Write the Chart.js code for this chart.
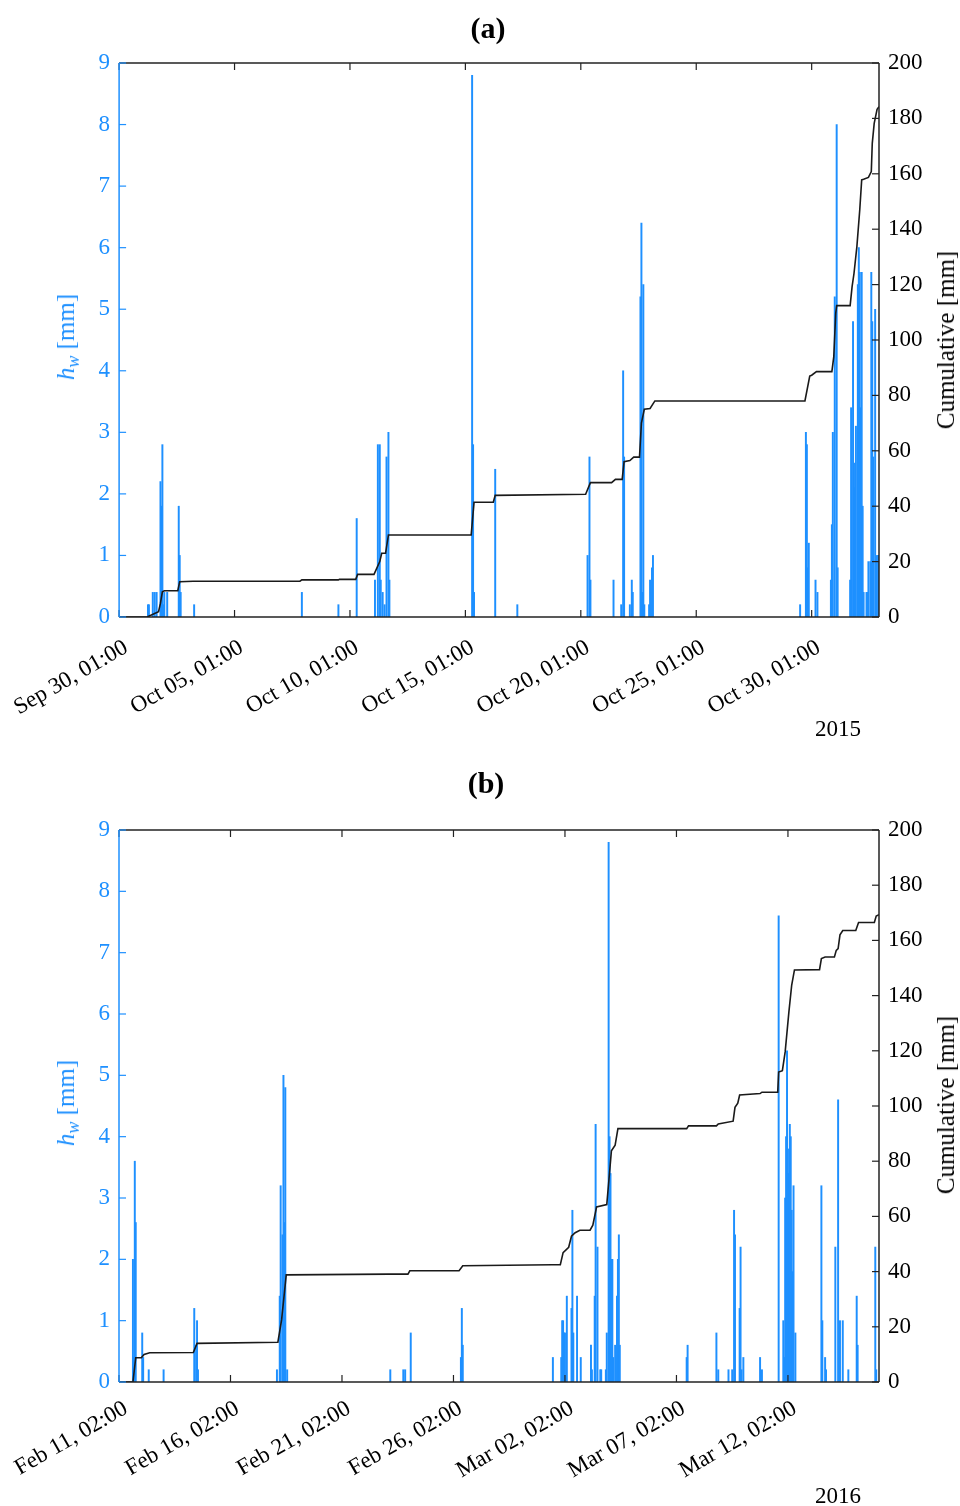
<!DOCTYPE html>
<html>
<head>
<meta charset="utf-8">
<script src="https://cdn.jsdelivr.net/npm/chart.js@4.4.1/dist/chart.umd.min.js"></script>
<style>
  html, body { margin: 0; padding: 0; background: #fff; }
  #page { position: relative; width: 960px; height: 1506px; overflow: hidden; font-family: "Liberation Serif", "Times New Roman", serif; }
  canvas { position: absolute; left: 0; }
  .txt { position: absolute; white-space: nowrap; transform: translate(-50%, -50%); color: #000; }
  .panel-title { font-size: 30px; font-weight: bold; }
  .year { font-size: 23px; }
  .ylab { font-size: 25px; transform: translate(-50%, -50%) rotate(-90deg); }
  .ylab.blue { color: #1e90ff; }
  .ylab sub { font-size: 18px; vertical-align: -5px; }
</style>
</head>
<body>
<div id="page">
  <canvas id="chartA" width="960" height="750" style="top:0"></canvas>
  <canvas id="chartB" width="960" height="756" style="top:750px"></canvas>

  <div class="txt panel-title" style="left:488px; top:28px">(a)</div>
  <div class="txt ylab blue" style="left:68px; top:337px"><i>h</i><sub><i>w</i></sub> [mm]</div>
  <div class="txt ylab" style="left:946px; top:340px">Cumulative [mm]</div>
  <div class="txt year" style="left:838px; top:729px">2015</div>

  <div class="txt panel-title" style="left:486px; top:783px">(b)</div>
  <div class="txt ylab blue" style="left:68px; top:1103px"><i>h</i><sub><i>w</i></sub> [mm]</div>
  <div class="txt ylab" style="left:946px; top:1105px">Cumulative [mm]</div>
  <div class="txt year" style="left:838px; top:1496px">2016</div>
</div>
<script>
  // Panel (a): hours after Sep 30, 01:00 (2015)
  const aTickHours = [0, 120, 240, 360, 480, 600, 720];
  const aTickLabels = ["Sep 30, 01:00", "Oct 05, 01:00", "Oct 10, 01:00", "Oct 15, 01:00",
    "Oct 20, 01:00", "Oct 25, 01:00", "Oct 30, 01:00"];
  const aRainHours = [30, 31, 35, 37, 39, 43, 44, 45, 46, 47, 50, 62, 63, 64, 78,
    190, 228, 247, 266, 269, 271, 272, 274, 276, 278, 280, 281,
    367, 368, 369, 391, 414,
    487, 489, 490, 514, 522, 524, 525, 531, 533, 534, 542, 543, 544, 545, 546, 551, 552, 554, 555,
    708, 714, 715, 716, 717, 724, 726, 740, 741, 742, 744, 746, 747,
    760, 761, 763, 764, 765, 766, 768, 769, 770, 771, 772, 773, 774, 777, 778, 779, 781,
    782, 783, 784, 786, 787, 789, 790];
  const aRainDepth = [0.2, 0.2, 0.4, 0.4, 0.4, 2.2, 1.8, 2.8, 0.2, 0.4, 0.4, 1.8, 1.0, 0.4, 0.2,
    0.4, 0.2, 1.6, 0.6, 2.8, 2.8, 0.6, 0.4, 0.2, 2.6, 3.0, 0.6,
    8.8, 2.8, 0.4, 2.4, 0.2,
    1.0, 2.6, 0.6, 0.6, 0.2, 4.0, 2.6, 0.2, 0.6, 0.4, 5.2, 6.4, 0.4, 5.4, 0.2, 0.2, 0.6, 0.8, 1.0,
    0.2, 3.0, 2.8, 0.8, 1.2, 0.6, 0.4, 0.6, 1.5, 3.0, 5.2, 8.0, 0.8,
    0.6, 3.4, 4.8, 2.5, 2.1, 3.1, 5.4, 6.0, 5.6, 3.4, 5.6, 1.8, 0.4, 0.4, 0.4, 0.9, 0.9,
    5.6, 4.8, 2.6, 5.0, 1.0, 1.0, 0.4];
  const aCumHours = [0, 29, 41, 43, 45, 47, 61, 63, 77, 188, 190, 228, 229, 246, 248, 265, 271, 273, 277, 280,
    366, 369, 389, 391, 485, 490, 512, 516, 523, 525, 531, 535, 541, 543, 546, 552, 557,
    713, 718, 720, 725, 741, 743, 745, 746, 760, 762, 764, 767, 770, 772, 774, 779, 782, 783, 785, 788, 790];
  const aCumDepth = [0, 0, 1.9, 5, 9.1, 9.5, 9.5, 12.7, 12.9, 12.9, 13.4, 13.4, 13.6, 13.6, 15.4, 15.4, 20, 23, 23, 29.6,
    29.6, 41.4, 41.4, 43.9, 44.3, 48.5, 48.5, 49.7, 49.7, 56.1, 56.5, 57.7, 57.7, 70, 75, 75.3, 78,
    78, 87, 87.3, 88.6, 88.6, 94, 109.6, 112.4, 112.4, 119.2, 124, 133.7, 147, 157.8, 158, 158.7, 160.8, 171, 178.2, 183.3, 184.2];

  // Panel (b): hours after Feb 11, 02:00 (2016)
  const bTickHours = [0, 120, 240, 360, 480, 600, 720];
  const bTickLabels = ["Feb 11, 02:00", "Feb 16, 02:00", "Feb 21, 02:00", "Feb 26, 02:00",
    "Mar 02, 02:00", "Mar 07, 02:00", "Mar 12, 02:00"];
  const bRainHours = [15, 16, 17, 18, 25, 26, 32, 48, 81, 83, 84, 85,
    170, 173, 174, 176, 177, 178, 179, 181, 292, 306, 308, 314, 368, 369, 370,
    467, 476, 477, 478, 479, 480, 482, 487, 488, 489, 493, 497, 508, 509, 512, 513, 515, 518, 519,
    524, 525, 527, 528, 529, 530, 531, 532, 534, 536, 537, 538, 539,
    611, 612, 643, 645, 656, 660, 662, 663, 668, 669, 670, 672, 690, 692,
    710, 715, 716, 717, 718, 719, 720, 721, 722, 723, 724, 725, 726, 728,
    756, 757, 760, 761, 771, 774, 776, 779, 785, 794, 795, 814, 815];
  const bRainDepth = [2.0, 0.4, 3.6, 2.6, 0.8, 0.4, 0.2, 0.2, 1.2, 0.6, 1.0, 0.2,
    0.2, 1.4, 3.2, 2.4, 5.0, 2.6, 4.8, 0.2, 0.2, 0.2, 0.2, 0.8, 0.4, 1.2, 0.6,
    0.4, 0.4, 1.0, 1.0, 0.8, 0.8, 1.4, 1.2, 2.8, 0.8, 1.4, 0.4, 0.6, 0.2, 1.4, 4.2, 2.2, 0.2, 0.2,
    0.2, 0.8, 8.8, 4.0, 3.4, 2.0, 2.0, 0.4, 0.6, 1.4, 2.0, 2.4, 0.6,
    0.4, 0.6, 0.8, 0.2, 0.2, 0.2, 2.8, 2.4, 1.2, 2.2, 0.2, 0.4, 0.4, 0.2,
    7.6, 1.0, 0.4, 3.0, 4.0, 5.4, 3.8, 3.4, 4.2, 4.0, 2.8, 1.8, 3.2, 0.8,
    3.2, 1.0, 0.4, 0.2, 2.2, 4.6, 1.0, 1.0, 0.2, 1.4, 0.6, 2.2, 0.2];
  const bCumHours = [0, 15, 18, 24, 27, 33, 80, 84, 171, 175, 180, 290, 311, 313, 366, 370,
    466, 475, 478, 484, 487, 491, 496, 507, 510, 514, 525, 528, 530, 534, 537,
    611, 613, 643, 645, 661, 663, 666, 668, 690, 692, 709, 710, 714, 717, 721, 724, 727,
    754, 756, 760, 770, 772, 774, 776, 779, 793, 796, 813, 815, 818];
  const bCumDepth = [0, 0, 8.8, 8.8, 10, 10.6, 10.7, 14.0, 14.4, 22.5, 38.8, 39.1, 39.1, 40.3, 40.3, 42.1,
    42.5, 42.5, 46.9, 48.8, 52.8, 54.1, 55.0, 55.0, 56.8, 63.4, 64.3, 75.9, 83.8, 85.8, 91.8,
    91.8, 92.8, 92.8, 93.5, 94.5, 99.5, 101, 104, 104.5, 105, 105, 112.3, 112.8, 119.6, 134, 143.7, 149.3,
    149.4, 153.4, 154, 154, 156.4, 157, 162, 163.6, 163.6, 166.5, 166.5, 168.8, 169.3];

  const BLUE = "#1e90ff";
  const TICK_FONT = { family: "'Liberation Serif', 'Times New Roman', serif", size: 23 };

  function pairs(xs, ys) {
    return xs.map(function (x, i) { return { x: x, y: ys[i] }; });
  }

  // MATLAB-style box with inward tick marks, drawn from the chart's own scales
  const framePlugin = {
    id: "frame",
    afterDatasetsDraw: function (chart) {
      const ctx = chart.ctx;
      const a = chart.chartArea;
      const s = chart.scales;
      const len = 7;
      function seg(x1, y1, x2, y2) {
        ctx.beginPath();
        ctx.moveTo(x1, y1);
        ctx.lineTo(x2, y2);
        ctx.stroke();
      }
      ctx.save();
      ctx.lineWidth = 1.2;
      ctx.strokeStyle = "#222";
      s.x.ticks.forEach(function (t) {
        const px = s.x.getPixelForValue(t.value);
        seg(px, a.bottom, px, a.bottom - len);
        seg(px, a.top, px, a.top + len);
      });
      s.yR.ticks.forEach(function (t) {
        const py = s.yR.getPixelForValue(t.value);
        seg(a.right, py, a.right - len, py);
      });
      ctx.lineWidth = 1.5;
      seg(a.left, a.top, a.right, a.top);
      seg(a.right, a.top, a.right, a.bottom);
      seg(a.left, a.bottom, a.right, a.bottom);
      ctx.strokeStyle = BLUE;
      ctx.lineWidth = 1.2;
      s.yL.ticks.forEach(function (t) {
        const py = s.yL.getPixelForValue(t.value);
        seg(a.left, py, a.left + len, py);
      });
      ctx.lineWidth = 1.5;
      seg(a.left, a.top, a.left, a.bottom);
      ctx.restore();
    }
  };

  function makePanel(id, p) {
    return new Chart(document.getElementById(id), {
      type: "bar",
      data: {
        datasets: [
          {
            type: "line",
            data: pairs(p.cumHours, p.cumDepth),
            yAxisID: "yR",
            borderColor: "#1a1a1a",
            borderWidth: 1.6,
            pointRadius: 0,
            tension: 0,
            order: 0,
          },
          {
            type: "bar",
            data: pairs(p.rainHours, p.rainDepth),
            yAxisID: "yL",
            backgroundColor: BLUE,
            borderWidth: 0,
            barThickness: 1.3,
            order: 1,
          },
        ],
      },
      options: {
        responsive: false,
        devicePixelRatio: 1,
        animation: false,
        layout: { padding: { top: p.top, left: 0, right: 0, bottom: 0 } },
        plugins: { legend: { display: false }, tooltip: { enabled: false } },
        scales: {
          x: {
            type: "linear",
            min: 0,
            max: p.maxHour,
            offset: false,
            grid: { display: false },
            border: { display: false },
            afterBuildTicks: function (scale) {
              scale.ticks = p.tickHours.map(function (v) { return { value: v }; });
            },
            afterFit: function (scale) { scale.height = p.xHeight; },
            ticks: {
              autoSkip: false,
              minRotation: 30,
              maxRotation: 30,
              padding: p.labelPad,
              labelOffset: 7,
              color: "#000",
              font: TICK_FONT,
              callback: function (v) {
                const i = p.tickHours.indexOf(v);
                return i >= 0 ? p.tickLabels[i] : "";
              },
            },
          },
          yL: {
            type: "linear",
            position: "left",
            min: 0,
            max: 9,
            grid: { display: false, drawTicks: false },
            border: { display: false },
            afterFit: function (scale) { scale.width = 119; },
            ticks: { stepSize: 1, padding: 9, color: BLUE, font: TICK_FONT },
          },
          yR: {
            type: "linear",
            position: "right",
            min: 0,
            max: 200,
            grid: { display: false, drawTicks: false },
            border: { display: false },
            afterFit: function (scale) { scale.width = 81; },
            ticks: { stepSize: 20, padding: 9, color: "#000", font: TICK_FONT },
          },
        },
      },
      plugins: [framePlugin],
    });
  }

  makePanel("chartA", {
    top: 63, xHeight: 133, maxHour: 790, labelPad: 9,
    tickHours: aTickHours, tickLabels: aTickLabels,
    rainHours: aRainHours, rainDepth: aRainDepth,
    cumHours: aCumHours, cumDepth: aCumDepth,
  });

  makePanel("chartB", {
    top: 80, xHeight: 124, maxHour: 818, labelPad: 5,
    tickHours: bTickHours, tickLabels: bTickLabels,
    rainHours: bRainHours, rainDepth: bRainDepth,
    cumHours: bCumHours, cumDepth: bCumDepth,
  });
</script>
</body>
</html>
